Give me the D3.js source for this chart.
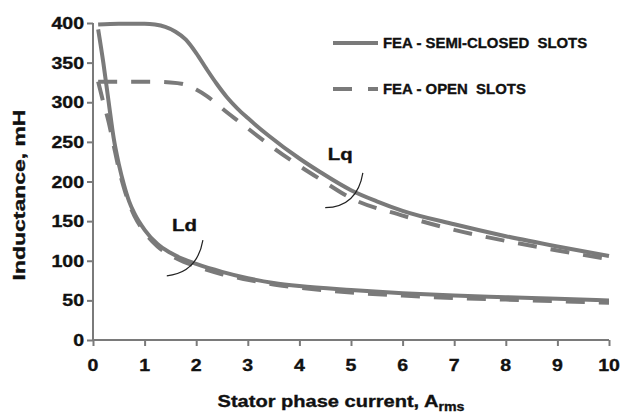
<!DOCTYPE html>
<html>
<head>
<meta charset="utf-8">
<script src="https://cdn.jsdelivr.net/npm/d3@7"></script>
<style>
  html, body { margin: 0; padding: 0; background: #fff; }
  svg { display: block; }
  text { font-family: "Liberation Sans", Arial, sans-serif; font-weight: bold; fill: #111; stroke: #111; stroke-width: 0.35px; white-space: pre; }
</style>
</head>
<body>
<svg id="chart" width="622" height="415"></svg>
<script>
// Inductance vs stator phase current, two slot designs (FEA)
const xTicks = [0, 1, 2, 3, 4, 5, 6, 7, 8, 9, 10];
const yTicks = [0, 50, 100, 150, 200, 250, 300, 350, 400];

// q-axis inductance, semi-closed slots
const lqSemiI = [0.1, 0.5, 1.0, 1.2, 1.4, 1.6, 1.8, 2.0, 2.2, 2.4, 2.6, 2.8, 3.0, 3.4, 4.0, 4.4, 5.0, 5.5, 6.0, 7.0, 8.0, 9.0, 10.0];
const lqSemiL = [398, 399, 399, 398, 395, 389, 379, 362, 342, 323, 306, 292, 280, 258, 229, 212, 189, 175, 163, 146, 131, 118, 106];

// q-axis inductance, open slots
const lqOpenI = [0.1, 0.5, 1.0, 1.5, 1.8, 2.0, 2.2, 2.4, 2.6, 2.8, 3.0, 3.4, 3.9, 4.4, 5.0, 6.0, 7.0, 8.0, 9.0, 10.0];
const lqOpenL = [326, 326, 326, 325, 322, 316, 308, 298, 287, 277, 267, 247, 224, 203, 179, 157, 139, 125, 113, 102];

// d-axis inductance, semi-closed slots
const ldSemiI = [0.1, 0.2, 0.3, 0.4, 0.5, 0.6, 0.7, 0.8, 1.0, 1.25, 1.5, 1.75, 2.0, 2.5, 3.0, 3.5, 4.0, 5.0, 6.0, 7.0, 8.0, 9.0, 10.0];
const ldSemiL = [392, 350, 302, 255, 222, 196, 175, 160, 139, 121, 110, 102, 96, 86, 78, 72, 68, 63, 59, 56, 54, 52, 50];

// d-axis inductance, open slots
const ldOpenI = [0.1, 0.2, 0.3, 0.4, 0.5, 0.6, 0.7, 0.8, 1.0, 1.25, 1.5, 1.75, 2.0, 2.5, 3.0, 3.5, 4.0, 5.0, 6.0, 7.0, 8.0, 9.0, 10.0];
const ldOpenL = [326, 300, 276, 246, 216, 192, 172, 157, 136, 118, 107, 99, 93, 83, 76, 70, 66, 60, 56, 53, 51, 49, 47];

const legendLabels = ["FEA - SEMI-CLOSED  SLOTS", "FEA - OPEN  SLOTS"];

// curve callouts (data coordinates): label anchor and arc start / control / end
const calloutNames = ["Ld", "Lq"];
const calloutLabelAt = [[1.53, 137], [4.55, 227]];
const calloutArcs = [
  [[1.43, 81], [2.02, 85], [2.13, 126]],
  [[4.50, 167], [5.12, 168], [5.23, 211]]
];

const svg = d3.select("#chart");
const margin = { left: 93, right: 13, top: 23, bottom: 75 };
const W = 622, H = 415;

const x = d3.scaleLinear().domain([0, 10]).range([margin.left, W - margin.right]);
const y = d3.scaleLinear().domain([0, 400]).range([H - margin.bottom, margin.top]);

const axisColor = "#7a7a7a";
const lineColor = "#7a7a7a";

function label(g, px, py, str, opts) {
  const o = Object.assign({ size: 15, anchor: "start", sx: 1, rot: 0 }, opts);
  return g.append("text")
    .attr("transform", `translate(${px},${py}) rotate(${o.rot}) scale(${o.sx},1)`)
    .attr("text-anchor", o.anchor)
    .style("font-size", o.size + "px")
    .text(str);
}

// axes
const xAxis = svg.append("g")
  .attr("transform", `translate(0,${y(0)})`)
  .call(d3.axisBottom(x).tickValues(xTicks).tickSize(6).tickFormat(""));
const yAxis = svg.append("g")
  .attr("transform", `translate(${x(0)},0)`)
  .call(d3.axisLeft(y).tickValues(yTicks).tickSize(6).tickFormat(""));
[xAxis, yAxis].forEach(a => {
  a.select(".domain").attr("stroke", axisColor).attr("stroke-width", 2);
  a.selectAll(".tick line").attr("stroke", axisColor).attr("stroke-width", 2);
});
xAxis.select(".domain").attr("d", `M${x(0)},0H${x(10)}`);
yAxis.select(".domain").attr("d", `M0,${y(0)}V${y(400)}`);

const labels = svg.append("g");
xTicks.forEach(t => label(labels, x(t), y(0) + 31, String(t), { anchor: "middle", size: 17, sx: 1.15 }));
yTicks.forEach(t => label(labels, x(0) - 9, y(t) + 6, String(t), { anchor: "end", size: 17, sx: 1.15 }));

// axis titles
label(labels, 25, 195, "Inductance, mH", { anchor: "middle", rot: -90, size: 17, sx: 1.35 });
const xt = label(labels, 341, 407, "Stator phase current, A", { anchor: "middle", size: 17, sx: 1.18 });
xt.append("tspan").attr("dy", 4).style("font-size", "12px").text("rms");

// series
const line = d3.line().x(d => x(d[0])).y(d => y(d[1])).curve(d3.curveMonotoneX);
const series = [
  { I: ldSemiI, L: ldSemiL, dash: null },
  { I: lqSemiI, L: lqSemiL, dash: null },
  { I: ldOpenI, L: ldOpenL, dash: "19,14" },
  { I: lqOpenI, L: lqOpenL, dash: "19,14" }
];
series.forEach(s => {
  svg.append("path")
    .datum(d3.zip(s.I, s.L))
    .attr("d", line)
    .attr("fill", "none")
    .attr("stroke", lineColor)
    .attr("stroke-width", 4)
    .attr("stroke-dasharray", s.dash);
});

// callouts
calloutArcs.forEach((a, i) => {
  const p = d3.path();
  p.moveTo(x(a[0][0]), y(a[0][1]));
  p.quadraticCurveTo(x(a[1][0]), y(a[1][1]), x(a[2][0]), y(a[2][1]));
  svg.append("path").attr("d", p.toString()).attr("fill", "none")
    .attr("stroke", "#222").attr("stroke-width", 1.2);
  label(svg, x(calloutLabelAt[i][0]), y(calloutLabelAt[i][1]), calloutNames[i], { size: 17, sx: 1.2 });
});

// legend
const legend = svg.append("g").attr("transform", "translate(333,43)");
legendLabels.forEach((name, i) => {
  const row = legend.append("g").attr("transform", `translate(0,${i * 46})`);
  row.append("line").attr("x1", 0).attr("x2", 45).attr("y1", 0).attr("y2", 0)
    .attr("stroke", lineColor).attr("stroke-width", 4)
    .attr("stroke-dasharray", i === 1 ? "19,16" : null);
  label(row, 50, 5, name, { size: 14.5, sx: 1.03 });
});
</script>
</body>
</html>
